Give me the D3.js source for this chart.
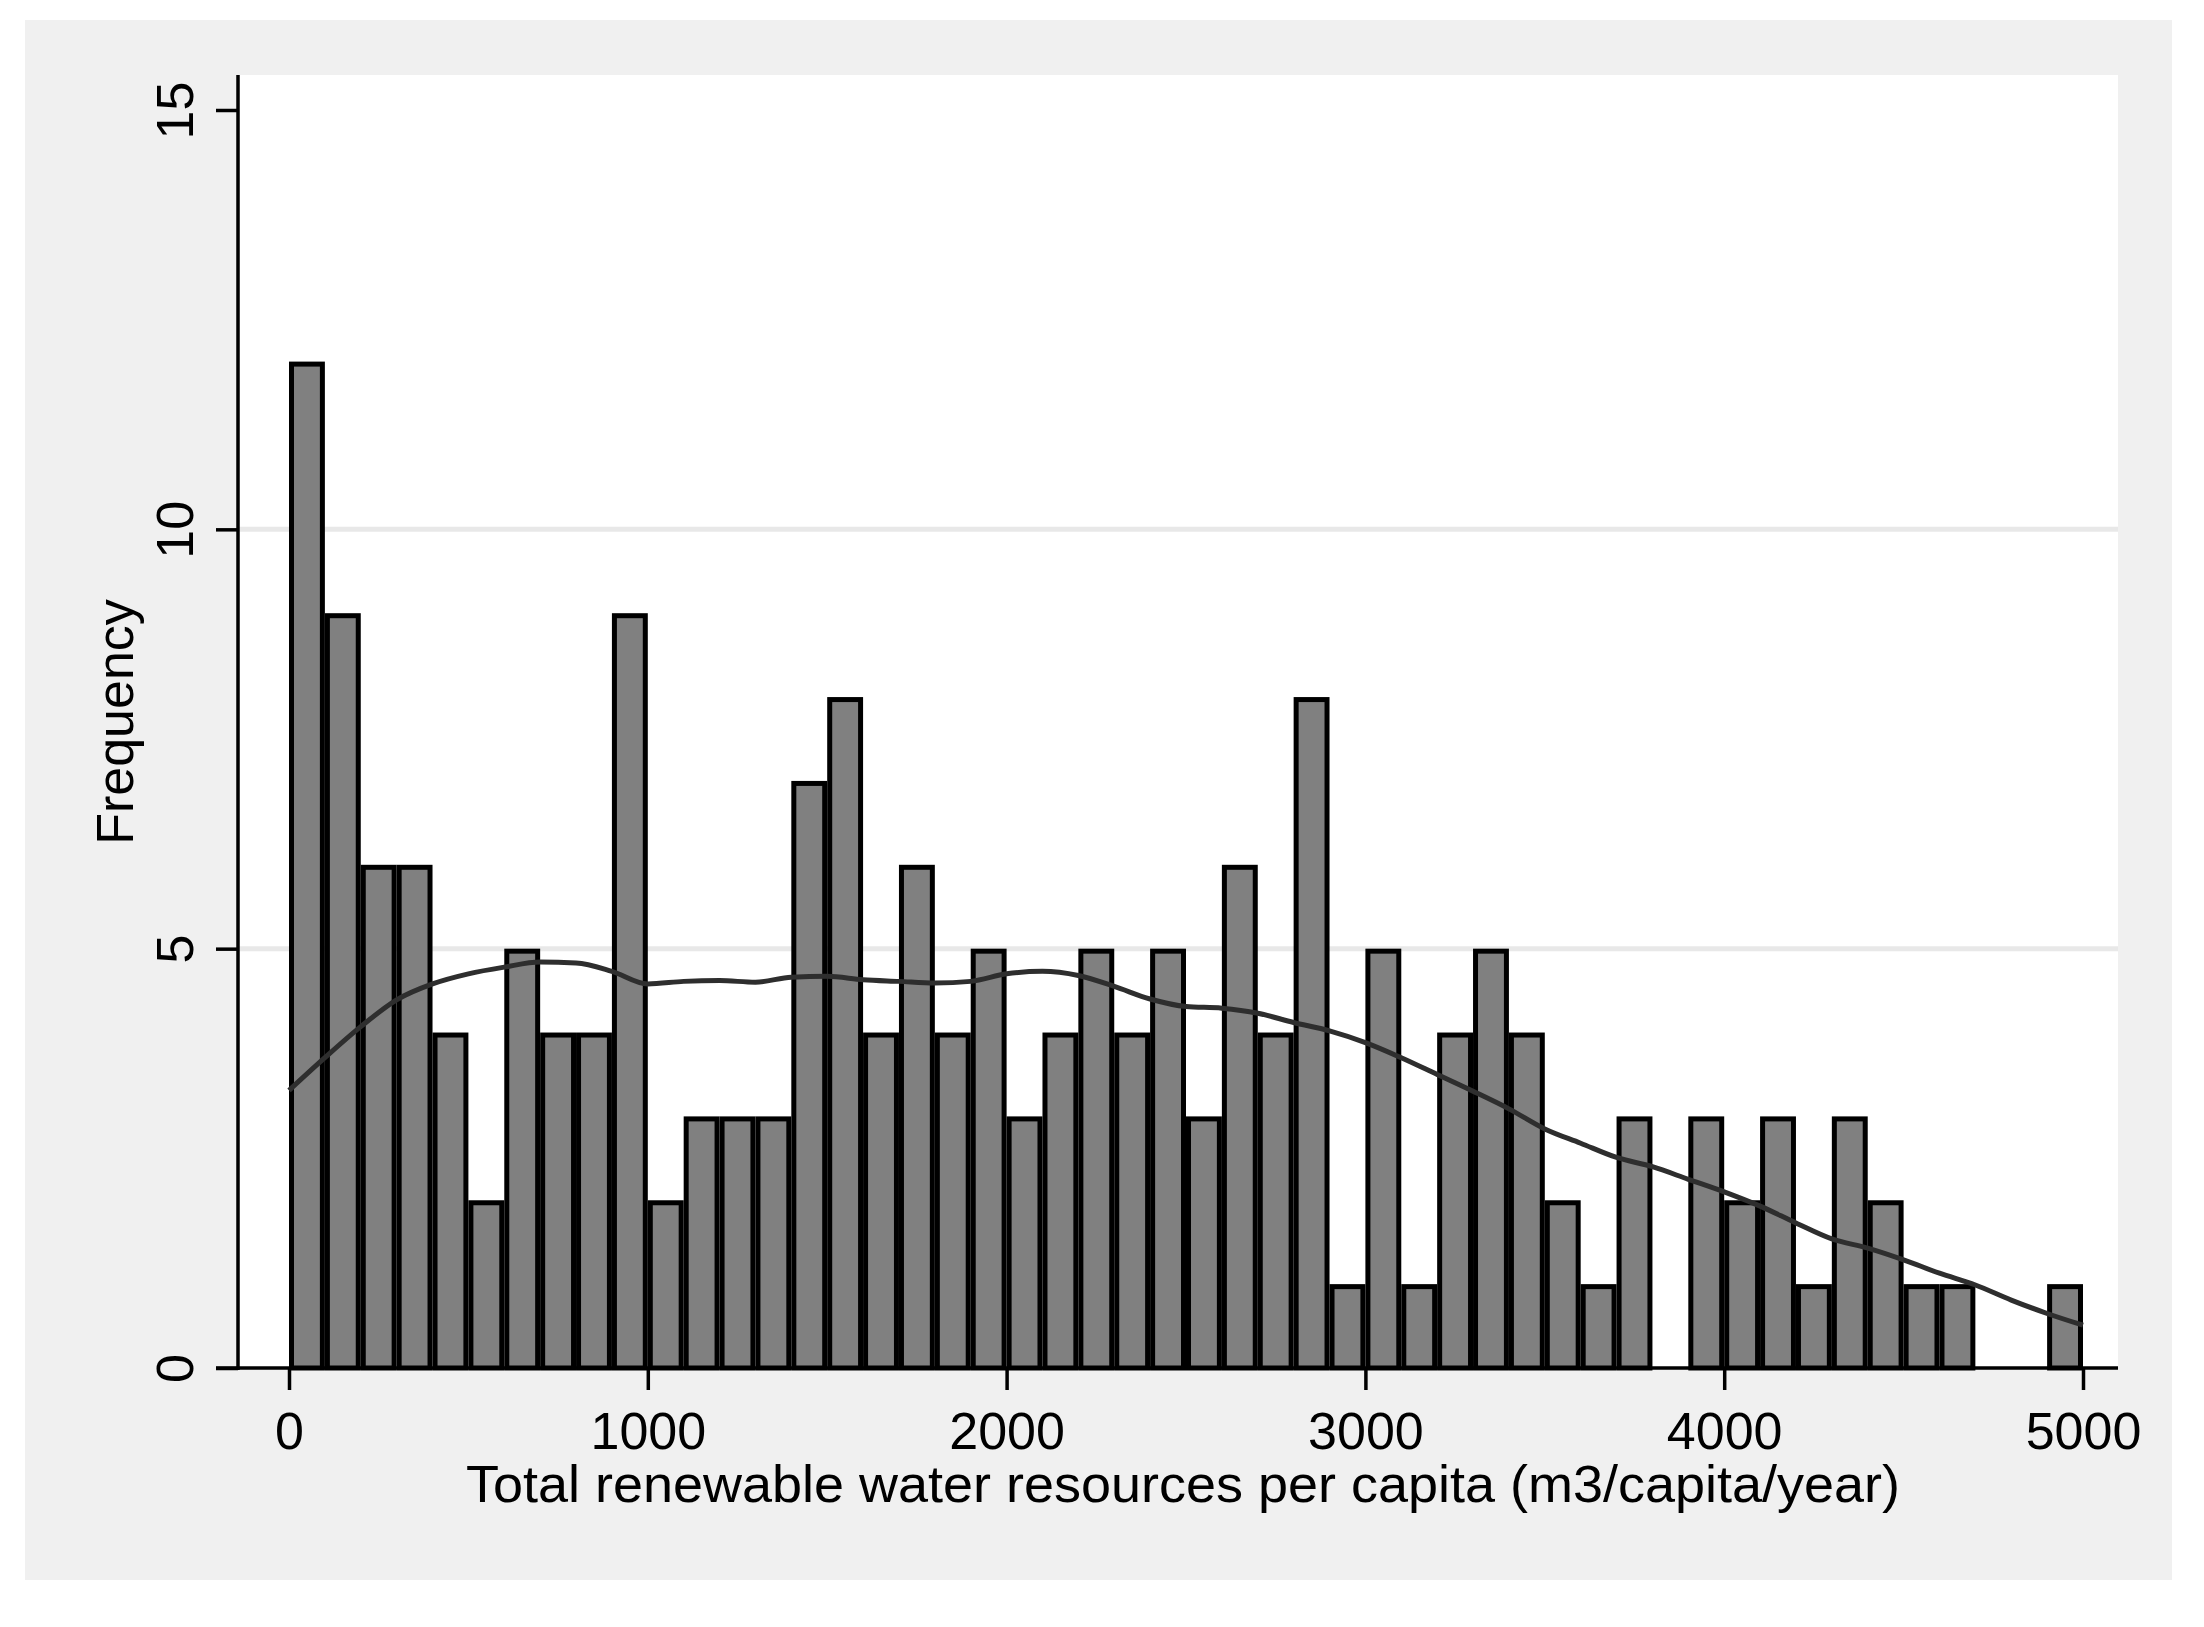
<!DOCTYPE html>
<html>
<head>
<meta charset="utf-8">
<script src="https://cdn.jsdelivr.net/npm/d3@7"></script>
<style>
    body { margin: 0; background: #ffffff; }
    svg { display: block; }
</style>
</head>
<body>
<svg id="chart"></svg>
<script>
// histogram: bins of width 100, starting at 0
var bin_starts = d3.range(0, 5000, 100);
var bin_width = 100;
var frequency = [
    12, 9, 6, 6, 4, 2, 5, 4, 4, 9,
    2, 3, 3, 3, 7, 8, 4, 6, 4, 5,
    3, 4, 5, 4, 5, 3, 6, 4, 8, 1,
    5, 1, 4, 5, 4, 2, 1, 3, 0, 3,
    2, 3, 1, 3, 2, 1, 1, 0, 0, 1
];

// kernel density overlay (already in frequency units)
var kde_x = [
    0, 100, 200, 300, 400, 500, 600, 700, 800, 900,
    1000, 1100, 1200, 1300, 1400, 1500, 1600, 1700, 1800, 1900,
    2000, 2100, 2200, 2300, 2400, 2500, 2600, 2700, 2800, 2900,
    3000, 3100, 3200, 3300, 3400, 3500, 3600, 3700, 3800, 3900,
    4000, 4100, 4200, 4300, 4400, 4500, 4600, 4700, 4800, 4900, 5000
];
var kde_y = [
    3.31, 3.70, 4.07, 4.39, 4.58, 4.70, 4.78, 4.84, 4.83, 4.73,
    4.58, 4.61, 4.62, 4.60, 4.66, 4.67, 4.63, 4.61, 4.59, 4.61,
    4.70, 4.73, 4.68, 4.55, 4.40, 4.31, 4.29, 4.23, 4.12, 4.02,
    3.88, 3.70, 3.50, 3.30, 3.09, 2.85, 2.68, 2.51, 2.40, 2.25,
    2.10, 1.93, 1.73, 1.54, 1.43, 1.29, 1.13, 0.99, 0.81, 0.65, 0.51
];

var x_ticks = [0, 1000, 2000, 3000, 4000, 5000];
var y_ticks = [0, 5, 10, 15];
var y_grid = [5, 10];

var x_title = 'Total renewable water resources per capita (m3/capita/year)';
var y_title = 'Frequency';

var W = 2204, H = 1627;
var font = '"Liberation Sans", Arial, sans-serif';

var svg = d3.select('#chart').attr('width', W).attr('height', H);

// outer grey frame and white plot region
svg.append('rect').attr('x', 25).attr('y', 20)
    .attr('width', 2147).attr('height', 1560).attr('fill', '#f0f0f0');
svg.append('rect').attr('x', 238).attr('y', 75)
    .attr('width', 1880).attr('height', 1293).attr('fill', '#ffffff');

var x = d3.scaleLinear().domain([0, 5000]).range([289, 2083]);
var y = d3.scaleLinear().domain([0, 15]).range([1368, 110]);

// gridlines
svg.append('g')
    .selectAll('line')
    .data(y_grid)
    .join('line')
    .attr('x1', 238).attr('x2', 2118)
    .attr('y1', d => y(d)).attr('y2', d => y(d))
    .attr('stroke', '#e8e8e8')
    .attr('stroke-width', 5);

// bars, outline drawn inside each bin
var sw = 5;
svg.append('g')
    .selectAll('rect')
    .data(bin_starts.map((s, i) => ({ start: s, value: frequency[i] }))
          .filter(d => d.value > 0))
    .join('rect')
    .attr('x', d => x(d.start) + sw / 2)
    .attr('width', d => x(d.start + bin_width) - x(d.start) - sw)
    .attr('y', d => y(d.value) + sw / 2)
    .attr('height', d => y(0) - y(d.value) - sw / 2)
    .attr('fill', '#808080')
    .attr('stroke', '#000000')
    .attr('stroke-width', sw);

// density line
var line = d3.line()
    .x((d, i) => x(kde_x[i]))
    .y(d => y(d))
    .curve(d3.curveMonotoneX);

svg.append('path')
    .datum(kde_y)
    .attr('d', line)
    .attr('fill', 'none')
    .attr('stroke', '#2e2e2e')
    .attr('stroke-width', 5)
    .attr('stroke-linejoin', 'round');

// axes
var xAxis = d3.axisBottom(x).tickValues(x_ticks).tickSize(22).tickPadding(14)
    .tickFormat(d3.format('d'));
var gx = svg.append('g').attr('transform', `translate(0,${y(0)})`).call(xAxis);
gx.select('.domain').remove();
gx.append('line').attr('x1', 216).attr('x2', 2118).attr('y1', 0).attr('y2', 0)
    .attr('stroke', '#000').attr('stroke-width', 3.5);
gx.selectAll('.tick line').attr('stroke', '#000').attr('stroke-width', 3.5);
gx.selectAll('.tick text')
    .attr('font-family', font).attr('font-size', 52).attr('fill', '#000')
    .attr('dy', null).attr('y', 81);

var yAxis = d3.axisLeft(y).tickValues(y_ticks).tickSize(22).tickFormat(d3.format('d'));
var gy = svg.append('g').attr('transform', 'translate(238,0)').call(yAxis);
gy.select('.domain').remove();
gy.append('line').attr('x1', 0).attr('x2', 0).attr('y1', 75).attr('y2', 1370)
    .attr('stroke', '#000').attr('stroke-width', 3.5);
gy.selectAll('.tick line').attr('stroke', '#000').attr('stroke-width', 3.5);
gy.selectAll('.tick text')
    .attr('font-family', font).attr('font-size', 52).attr('fill', '#000')
    .attr('x', null).attr('dy', null)
    .attr('text-anchor', 'middle')
    .attr('transform', 'translate(-45,0) rotate(-90)');

// axis titles
svg.append('text')
    .attr('x', 1183).attr('y', 1502)
    .attr('text-anchor', 'middle')
    .attr('font-family', font).attr('font-size', 52)
    .attr('textLength', 1434).attr('lengthAdjust', 'spacingAndGlyphs')
    .text(x_title);

svg.append('text')
    .attr('transform', 'translate(133,722) rotate(-90)')
    .attr('text-anchor', 'middle')
    .attr('font-family', font).attr('font-size', 52)
    .text(y_title);
</script>
</body>
</html>
